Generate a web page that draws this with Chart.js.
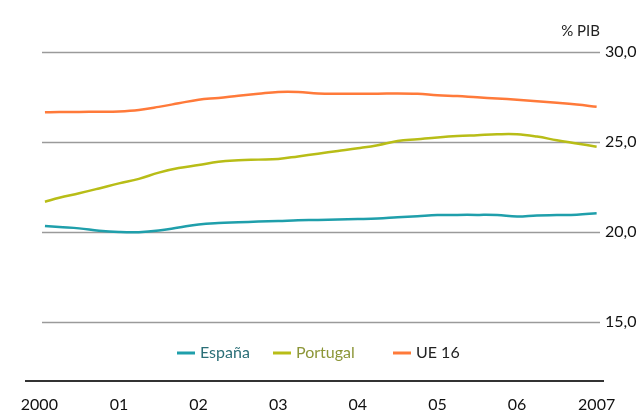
<!DOCTYPE html>
<html>
<head>
<meta charset="utf-8">
<script src="https://cdn.jsdelivr.net/npm/chart.js@4/dist/chart.umd.min.js"></script>
<style>
  html, body { margin: 0; padding: 0; background: #fff; }
  #wrap { width: 641px; height: 410px; position: relative; }
</style>
</head>
<body>
<div id="wrap"><canvas id="grafico"></canvas></div>
<script>
// quarterly points, 2000 .. 2007 (% of GDP)
var years = [2000.07, 2000.25, 2000.5, 2000.75, 2001, 2001.25, 2001.5, 2001.75,
             2002, 2002.25, 2002.5, 2002.75, 2003, 2003.25, 2003.5, 2003.75,
             2004, 2004.25, 2004.5, 2004.75, 2005, 2005.25, 2005.5, 2005.75,
             2006, 2006.25, 2006.5, 2006.75, 2007];
var espana = [20.33, 20.27, 20.2, 20.07, 20.0, 19.99, 20.08, 20.25,
              20.42, 20.5, 20.54, 20.58, 20.61, 20.65, 20.67, 20.7,
              20.72, 20.75, 20.82, 20.88, 20.94, 20.95, 20.95, 20.94,
              20.86, 20.92, 20.94, 20.96, 21.04];
var portugal = [21.68, 21.9, 22.15, 22.42, 22.7, 22.95, 23.3, 23.55,
                23.72, 23.9, 23.98, 24.02, 24.06, 24.2, 24.35, 24.5,
                24.65, 24.82, 25.05, 25.15, 25.25, 25.33, 25.38, 25.43,
                25.43, 25.3, 25.1, 24.92, 24.74];
var ue16 = [26.65, 26.67, 26.67, 26.68, 26.7, 26.78, 26.95, 27.15,
            27.35, 27.45, 27.57, 27.68, 27.78, 27.78, 27.7, 27.68,
            27.68, 27.68, 27.7, 27.68, 27.6, 27.55, 27.48, 27.42,
            27.35, 27.27, 27.18, 27.08, 26.96];
var yTicks = [15, 20, 25, 30];
var xTicks = [2000, 2001, 2002, 2003, 2004, 2005, 2006, 2007];

var nombres = ['España', 'Portugal', 'UE 16'];
var colores = ['#1f9fab', '#b8bd17', '#ff7a3a'];
var coloresTexto = ['#2b6f77', '#8c9638', '#222222'];

var FONT = 'Lato, "Open Sans", sans-serif';

function puntos(serie) {
  return serie.map(function(v, i) { return {x: years[i], y: v}; });
}

// horizontal grid lines, % PIB label and legend
var extras = {
  id: 'extras',
  beforeDatasetsDraw: function(chart) {
    var ctx = chart.ctx;
    var y = chart.scales.y;
    ctx.save();
    ctx.strokeStyle = '#9a9a9a';
    ctx.lineWidth = 1.5;
    yTicks.forEach(function(t) {
      var py = Math.round(y.getPixelForValue(t)) + 0.5;
      ctx.beginPath();
      ctx.moveTo(42, py);
      ctx.lineTo(600, py);
      ctx.stroke();
    });
    ctx.restore();
  },
  afterDraw: function(chart) {
    var ctx = chart.ctx;
    ctx.save();
    ctx.font = '15px ' + FONT;
    ctx.fillStyle = '#222';
    ctx.textAlign = 'right';
    ctx.textBaseline = 'middle';
    ctx.fillText('% PIB', 600, 31);

    // legend
    ctx.font = '16px ' + FONT;
    ctx.textAlign = 'left';
    var ly = 353;
    var inicio = [177, 273, 393];
    nombres.forEach(function(n, i) {
      var lx = inicio[i];
      ctx.strokeStyle = colores[i];
      ctx.lineWidth = 3;
      ctx.beginPath();
      ctx.moveTo(lx, ly);
      ctx.lineTo(lx + 18, ly);
      ctx.stroke();
      ctx.fillStyle = coloresTexto[i];
      ctx.fillText(n, lx + 23, ly);
    });
    ctx.restore();
  }
};

new Chart('grafico', {
  type: 'line',
  data: {
    datasets: nombres.map(function(n, i) {
      return {
        label: n,
        data: puntos([espana, portugal, ue16][i]),
        borderColor: colores[i],
        borderWidth: 2.5,
        pointRadius: 0,
        tension: 0.4,
        fill: false
      };
    })
  },
  options: {
    responsive: true,
    maintainAspectRatio: false,
    animation: false,
    layout: { padding: { left: 26, top: 34, right: 0, bottom: 0 } },
    plugins: {
      legend: { display: false },
      tooltip: { enabled: false }
    },
    scales: {
      x: {
        type: 'linear',
        min: 1999.832,
        max: 2007.08,
        afterBuildTicks: function(s) {
          s.ticks = xTicks.map(function(v) { return {value: v}; });
        },
        afterFit: function(s) { s.height = 29; },
        grid: { display: false, drawTicks: false },
        border: { display: true, color: '#333', width: 2 },
        ticks: {
          padding: 14,
          maxRotation: 0,
          autoSkip: false,
          color: '#111',
          font: { family: FONT, size: 16 },
          callback: function(v) {
            if (v === 2000 || v === 2007) return String(v);
            return '0' + (v - 2000);
          }
        }
      },
      y: {
        position: 'right',
        min: 11.72,
        max: 31,
        afterBuildTicks: function(s) {
          s.ticks = yTicks.map(function(v) { return {value: v}; });
        },
        afterFit: function(s) { s.width = 38; },
        grid: { display: false, drawTicks: false },
        border: { display: false },
        ticks: {
          padding: 2,
          color: '#111',
          font: { family: FONT, size: 16 },
          callback: function(v) { return v.toFixed(1).replace('.', ','); }
        }
      }
    }
  },
  plugins: [extras]
});
</script>
</body>
</html>
